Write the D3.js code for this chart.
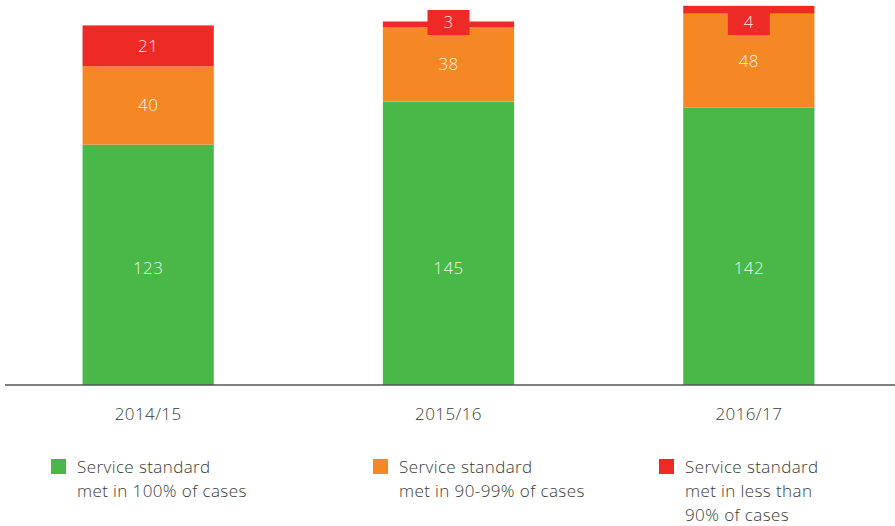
<!DOCTYPE html>
<html>
<head>
<meta charset="utf-8">
<script src="https://cdn.jsdelivr.net/npm/d3@7"></script>
<style>
  body { margin: 0; background: #fff; }
  text { font-family: "Open Sans", Lato, sans-serif; font-weight: 300; letter-spacing: 0.4px; }
</style>
</head>
<body>
<div id="chart"></div>
<script>
// data
const years = ['2014/15', '2015/16', '2016/17'];
const met100 = [123, 145, 142];
const met90to99 = [40, 38, 48];
const metLess90 = [21, 3, 4];

const seriesNames = [
    'Service standard|met in 100% of cases',
    'Service standard|met in 90-99% of cases',
    'Service standard|met in less than|90% of cases'
];
const colors = ['#4ab848', '#f38825', '#ee2a27'];

const W = 895, H = 526;
const baseY = 385;

let svg = d3.select('#chart')
    .append('svg')
    .attr('width', W)
    .attr('height', H);

// stack
const rows = years.map((y, i) => ({ year: y, a: met100[i], b: met90to99[i], c: metLess90[i] }));
const stack = d3.stack().keys(['a', 'b', 'c'])(rows);

const xScale = d3.scaleBand()
    .domain(years)
    .range([-2, 899])
    .paddingInner(0.563)
    .paddingOuter(0.2815);

const yScale = d3.scaleLinear()
    .domain([0, 197])
    .range([baseY, 0]);

// bars
const layers = svg.selectAll('.layer')
    .data(stack)
    .enter()
    .append('g')
    .attr('class', 'layer')
    .style('fill', (d, i) => colors[i]);

layers.selectAll('rect')
    .data(d => d)
    .enter()
    .append('rect')
    .attr('x', d => xScale(d.data.year))
    .attr('y', d => yScale(d[1]))
    .attr('width', xScale.bandwidth())
    .attr('height', d => yScale(d[0]) - yScale(d[1]));

// value labels
stack.forEach((layer, li) => {
    layer.forEach(d => {
        const v = d[1] - d[0];
        const cx = xScale(d.data.year) + xScale.bandwidth() / 2;
        let cy = (yScale(d[0]) + yScale(d[1])) / 2;
        if (li === 0) cy = baseY - 117; // green labels sit on one line
        if (yScale(d[0]) - yScale(d[1]) < 20) {
            // small segment: draw a tag box
            svg.append('rect')
                .attr('x', cx - 21)
                .attr('y', 10)
                .attr('width', 42)
                .attr('height', 25)
                .style('fill', colors[li]);
            cy = 22.5;
        }
        svg.append('text')
            .attr('x', cx)
            .attr('y', cy)
            .attr('dy', '0.35em')
            .attr('text-anchor', 'middle')
            .style('font-size', '17px')
            .style('fill', '#fff')
            .style('fill-opacity', 0.9)
            .text(v);
    });
});

// axis
const xAxis = d3.axisBottom(xScale).tickSize(0).tickPadding(23);
const axisG = svg.append('g')
    .attr('transform', `translate(0, ${baseY})`)
    .call(xAxis);
axisG.select('.domain').remove();
axisG.selectAll('text')
    .style('font-size', '17px')
    .style('fill', '#3a3a3a')
    .style('font-family', '"Open Sans", Lato, sans-serif');

svg.append('line')
    .attr('x1', 5)
    .attr('x2', W)
    .attr('y1', baseY)
    .attr('y2', baseY)
    .style('stroke', '#555')
    .style('stroke-width', 1.5);

// legend
const legendX = [51, 373, 659];
seriesNames.forEach((name, i) => {
    const g = svg.append('g')
        .attr('transform', `translate(${legendX[i]}, 459)`);
    g.append('rect')
        .attr('width', 15)
        .attr('height', 15)
        .style('fill', colors[i]);
    const t = g.append('text')
        .attr('x', 26)
        .attr('y', 14)
        .style('font-size', '17px')
        .style('fill', '#3a3a3a');
    name.split('|').forEach((line, j) => {
        t.append('tspan')
            .attr('x', 26)
            .attr('dy', j === 0 ? 0 : 24)
            .text(line);
    });
});
</script>
</body>
</html>
